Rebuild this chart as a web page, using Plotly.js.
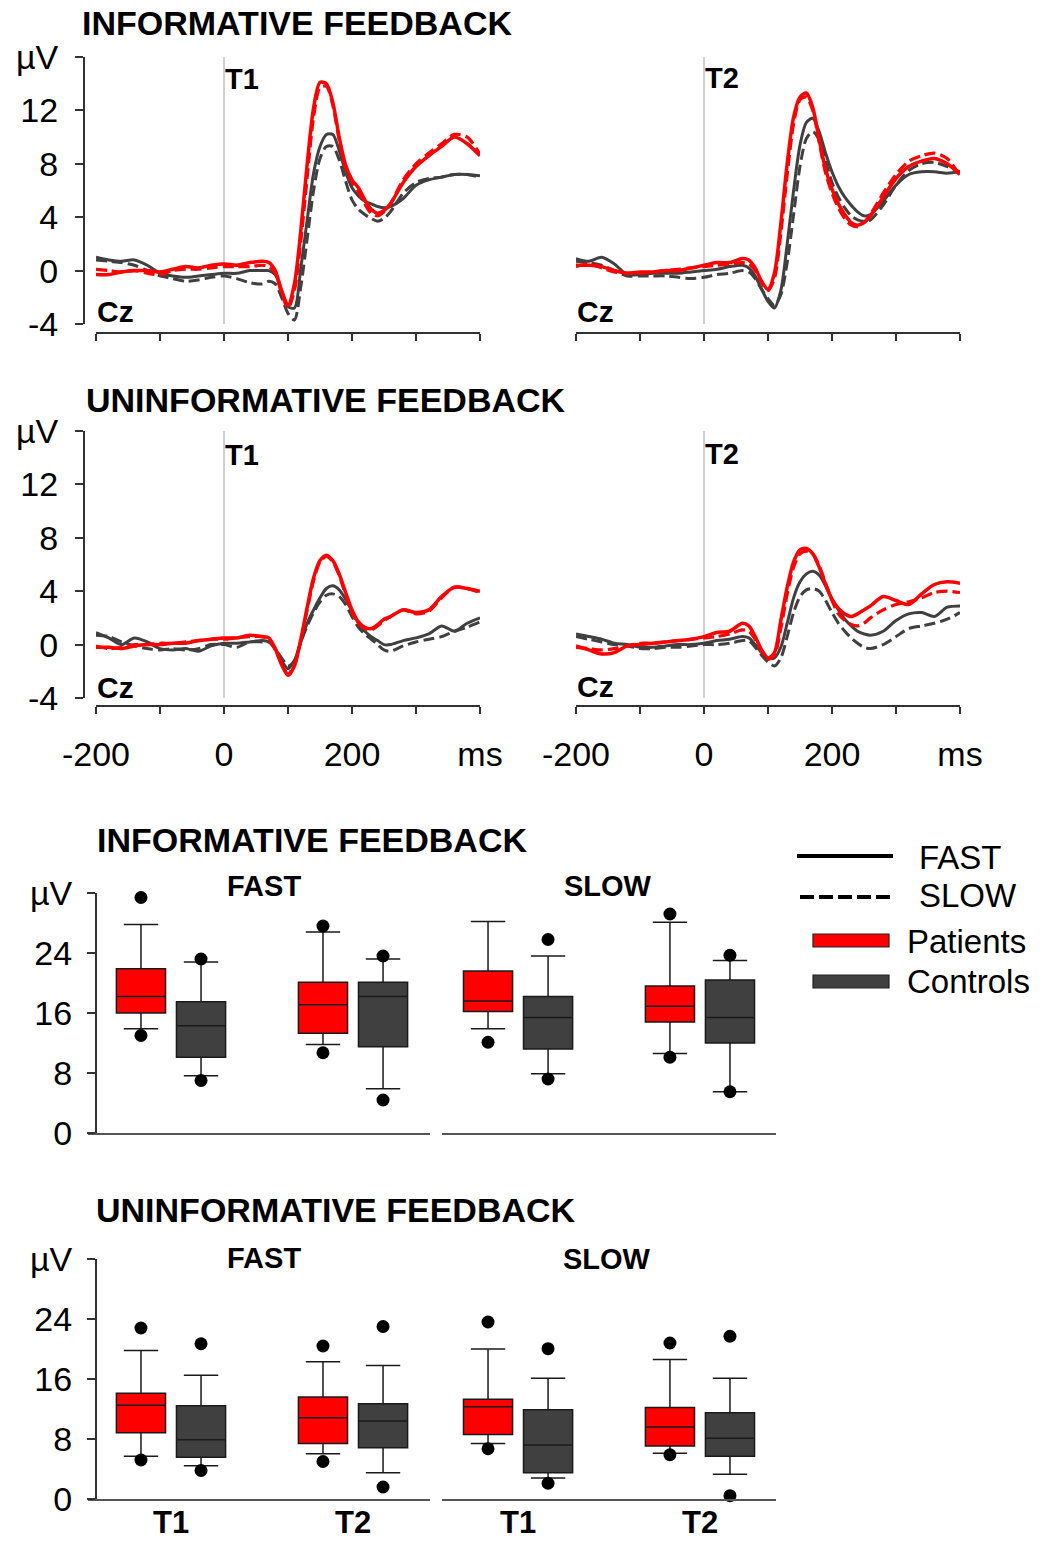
<!DOCTYPE html>
<html>
<head>
<meta charset="utf-8">
<script src="https://cdn.plot.ly/plotly-3.0.1.min.js"></script>
<style>html,body{margin:0;padding:0;background:#fff;}#chart{width:1052px;height:1542px;}</style>
</head>
<body>
<div id="chart"></div>
<script>
// ---------- ERP waveform data (µV), Cz ----------
const timeMs = [-200,-180,-160,-140,-120,-100,-80,-60,-40,-20,0,20,40,60,70,80,90,100,110,120,130,140,150,160,170,180,190,200,210,220,230,240,250,260,280,300,320,340,360,380,400];

// Informative feedback, T1
const infT1PatFast = [-0.3,-0.3,-0.1,0.0,0.0,-0.1,0.1,0.3,0.2,0.4,0.5,0.4,0.6,0.7, 0.6,0.0,-1.5,-2.6,-1.0,3.0,8.0,12.2,14.1,14.0,12.6,10.0,7.9,6.8,6.2,5.3,4.6,4.3,4.5,5.0, 6.6,7.8,8.6,9.3,10.0,9.5,8.6];
const infT1PatSlow = [0.1,0.0,-0.1,0.0,-0.2,-0.3,0.0,0.1,0.1,0.2,0.3,0.3,0.3,0.4, 0.3,-0.2,-1.7,-2.8,-1.5,2.2,7.0,11.5,13.7,13.8,12.4,9.8,7.7,6.6,5.9,5.0,4.3,4.1,4.4,5.0, 6.8,8.0,8.8,9.5,10.2,10.0,8.7];
const infT1CtlFast = [1.0,0.8,0.7,0.8,0.4,-0.2,-0.4,-0.5,-0.4,-0.3,-0.2,-0.2,0.0,0.0, 0.0,-0.3,-1.5,-2.7,-2.8,0.2,3.8,7.3,9.3,10.2,10.2,9.0,7.4,6.2,5.6,5.2,5.0,4.8,4.7,4.8, 5.4,6.4,6.8,7.0,7.2,7.2,7.1];
const infT1CtlSlow = [0.8,0.7,0.6,0.4,0.0,-0.4,-0.6,-0.8,-0.7,-0.5,-0.4,-0.6,-0.9,-1.0, -0.8,-1.0,-2.0,-3.2,-3.7,-1.2,2.4,6.0,8.4,9.3,9.3,8.3,6.7,5.3,4.6,4.2,3.9,3.7,3.9,4.4, 5.8,6.6,6.9,7.0,7.2,7.2,7.0];
// Informative feedback, T2
const infT2PatFast = [0.4,0.4,0.3,0.0,-0.2,-0.1,-0.1,0.0,0.0,0.2,0.4,0.6,0.6,0.9, 0.8,0.2,-0.8,-1.4,-0.2,3.5,8.0,11.5,13.0,13.3,12.2,9.8,7.6,6.1,5.0,4.2,3.6,3.4,3.6,4.1, 5.5,6.9,7.8,8.2,8.4,8.0,7.2];
const infT2PatSlow = [0.3,0.5,0.2,-0.1,-0.2,-0.2,-0.1,0.0,0.1,0.2,0.3,0.4,0.5,0.6, 0.5,0.0,-0.9,-1.5,-0.6,2.8,7.2,11.0,12.8,13.0,12.0,9.6,7.3,5.8,4.7,3.9,3.4,3.3,3.6,4.2, 5.8,7.2,8.2,8.6,8.8,8.4,7.1];
const infT2CtlFast = [0.9,0.7,1.0,0.5,-0.3,-0.3,-0.2,-0.2,-0.2,-0.1,0.0,0.1,0.3,0.4, 0.2,-0.4,-1.4,-2.3,-2.8,-1.5,2.0,6.0,9.4,11.1,11.4,10.4,8.8,7.4,6.3,5.5,4.9,4.4,4.1,4.2, 5.2,6.4,7.2,7.4,7.4,7.3,7.4];
const infT2CtlSlow = [0.7,0.6,0.4,0.0,-0.4,-0.4,-0.4,-0.4,-0.5,-0.6,-0.5,-0.3,-0.2,0.0, -0.1,-0.6,-1.4,-2.1,-2.6,-1.8,0.6,4.2,7.8,9.9,10.4,9.8,8.2,6.6,5.5,4.7,4.1,3.8,3.7,3.8, 4.9,6.4,7.5,8.0,8.1,7.8,7.4];
// Uninformative feedback, T1
const uniT1PatFast = [-0.2,-0.2,-0.3,-0.1,0.0,0.0,0.1,0.1,0.3,0.4,0.5,0.5,0.7,0.6, 0.5,-0.3,-1.5,-2.3,-1.6,0.4,2.8,5.0,6.3,6.7,6.3,5.3,3.9,2.6,1.7,1.3,1.2,1.5,1.9,2.1, 2.6,2.4,2.6,3.6,4.3,4.2,4.0];
const uniT1PatSlow = [-0.1,-0.3,-0.2,0.0,0.0,0.1,0.1,0.2,0.3,0.4,0.4,0.5,0.6,0.6, 0.4,-0.4,-1.4,-2.2,-1.5,0.3,2.6,4.8,6.2,6.6,6.2,5.2,3.7,2.4,1.6,1.2,1.1,1.4,1.8,2.1, 2.6,2.3,2.5,3.5,4.3,4.2,3.9];
const uniT1CtlFast = [0.9,0.5,0.0,0.5,0.2,-0.3,-0.4,-0.3,-0.5,-0.1,0.1,0.1,0.2,0.3, 0.2,-0.3,-1.2,-1.8,-1.2,0.2,1.6,2.6,3.5,4.2,4.4,4.1,3.4,2.5,1.6,1.0,0.6,0.3,0.0,0.0, 0.3,0.5,0.8,1.4,1.0,1.6,2.0];
const uniT1CtlSlow = [0.7,0.6,0.2,-0.1,-0.3,-0.4,-0.3,-0.4,-0.3,0.0,0.0,-0.2,0.2,0.2, 0.2,-0.3,-1.0,-1.6,-1.2,0.2,1.4,2.4,3.2,3.7,3.8,3.6,3.0,2.1,1.3,0.8,0.4,0.0,-0.4,-0.5, -0.1,0.2,0.4,0.6,1.0,1.3,1.7];
// Uninformative feedback, T2
const uniT2PatFast = [-0.1,-0.4,-0.7,-0.6,-0.1,0.0,0.1,0.2,0.3,0.4,0.6,0.9,1.0,1.6, 1.4,0.6,-0.4,-1.0,-0.6,1.8,4.3,6.2,7.1,7.2,6.8,5.8,4.5,3.4,2.7,2.3,2.1,2.3,2.6,2.9, 3.6,3.3,3.0,3.8,4.5,4.7,4.6];
const uniT2PatSlow = [-0.2,-0.3,-0.4,-0.3,-0.1,0.1,0.1,0.2,0.3,0.4,0.5,0.6,0.8,1.1, 1.0,0.4,-0.5,-1.1,-0.8,1.2,3.8,5.8,6.8,7.0,6.8,5.9,4.6,3.3,2.3,1.8,1.5,1.4,1.6,2.0, 2.6,3.0,3.2,3.5,3.9,4.0,3.9];
const uniT2CtlFast = [0.8,0.6,0.4,0.1,0.0,-0.2,-0.2,-0.1,0.0,0.0,0.1,0.3,0.4,0.6, 0.5,0.0,-0.6,-1.0,-1.0,-0.2,1.6,3.5,4.7,5.3,5.5,5.2,4.4,3.4,2.6,1.9,1.4,1.0,0.8,0.7, 1.0,1.8,2.3,2.4,2.1,2.8,2.9];
const uniT2CtlSlow = [0.6,0.4,0.2,0.0,-0.1,-0.3,-0.3,-0.2,-0.2,-0.1,0.0,0.0,0.1,0.3, 0.3,-0.2,-0.8,-1.3,-1.6,-1.0,0.6,2.4,3.6,4.1,4.2,4.0,3.3,2.4,1.6,1.0,0.5,0.1,-0.2,-0.3, 0.0,0.6,1.2,1.4,1.6,1.9,2.4];

const erpTickVals = [-200,-100,0,100,200,300,400];
const erpTickText = ['-200','','0','','200','','ms'];
const erpYTickVals = [-4,0,4,8,12,16];
const erpYTickText = ['-4','0','4','8','12','µV'];

// ---------- Box-plot data (µV): [T1, T2] ----------
const sessions = ['T1','T2'];
const infFastPat = {lf:[13.9,11.8], q1:[16.0,13.3], med:[18.2,17.1], q3:[21.9,20.1], uf:[27.8,26.8], hi:[31.4,27.6], lo:[13.0,10.7]};
const infFastCtl = {lf:[7.65,5.9], q1:[10.1,11.5], med:[14.3,18.2], q3:[17.5,20.1], uf:[22.8,23.2], hi:[23.2,23.6], lo:[7.0,4.4]};
const infSlowPat = {lf:[13.9,10.6], q1:[16.2,14.8], med:[17.6,16.9], q3:[21.6,19.6], uf:[28.2,28.1], hi:[null,29.2], lo:[12.1,10.1]};
const infSlowCtl = {lf:[7.9,5.5], q1:[11.2,12.0], med:[15.4,15.4], q3:[18.2,20.4], uf:[23.6,23.0], hi:[25.8,23.7], lo:[7.2,5.5]};
const uniFastPat = {lf:[5.7,6.05], q1:[8.85,7.4], med:[12.5,10.85], q3:[14.1,13.6], uf:[19.8,18.3], hi:[22.8,20.4], lo:[5.2,5.0]};
const uniFastCtl = {lf:[4.45,3.5], q1:[5.56,6.85], med:[7.9,10.4], q3:[12.45,12.7], uf:[16.5,17.8], hi:[20.7,23.0], lo:[3.8,1.6]};
const uniSlowPat = {lf:[7.4,6.1], q1:[8.6,7.07], med:[12.3,9.6], q3:[13.3,12.2], uf:[20.0,18.6], hi:[23.6,20.8], lo:[6.7,5.9]};
const uniSlowCtl = {lf:[2.8,3.3], q1:[3.5,5.7], med:[7.2,8.1], q3:[11.9,11.5], uf:[16.1,16.1], hi:[20.05,21.7], lo:[2.1,0.45]};
const boxYTickVals = [0,8,16,24,32];
const boxYTickText = ['0','8','16','24','µV'];

// ---------- styling ----------
const W = 1052, H = 1542;
const px = v => v / W;
const py = v => 1 - v / H;
const RED = '#ff0000', GRAY = '#404040';
const FONT = 'Liberation Sans, Arial, sans-serif';
const DASH = '11px,5px';

const traces = [];
function erp(ax, ctlFast, ctlSlow, patFast, patSlow) {
  const common = {x: timeMs, mode: 'lines', xaxis: 'x' + ax, yaxis: 'y' + ax, hoverinfo: 'skip'};
  traces.push(Object.assign({}, common, {y: ctlSlow, line: {color: GRAY, width: 3, dash: DASH, shape: 'spline', smoothing: 0.8}}));
  traces.push(Object.assign({}, common, {y: ctlFast, line: {color: GRAY, width: 3, shape: 'spline', smoothing: 0.8}}));
  traces.push(Object.assign({}, common, {y: patSlow, line: {color: RED, width: 3.2, dash: DASH, shape: 'spline', smoothing: 0.8}}));
  traces.push(Object.assign({}, common, {y: patFast, line: {color: RED, width: 3.5, shape: 'spline', smoothing: 0.8}}));
}
erp(1, infT1CtlFast, infT1CtlSlow, infT1PatFast, infT1PatSlow);
erp(2, infT2CtlFast, infT2CtlSlow, infT2PatFast, infT2PatSlow);
erp(3, uniT1CtlFast, uniT1CtlSlow, uniT1PatFast, uniT1PatSlow);
erp(4, uniT2CtlFast, uniT2CtlSlow, uniT2PatFast, uniT2PatSlow);

const sessIdx = sessions.map((s, i) => i);
const OFF = 0.165, BW = 0.27;
function boxes(ax, pat, ctl) {
  [[pat, -OFF, RED], [ctl, OFF, GRAY]].forEach(([d, off, col]) => {
    const xs = sessIdx.map(i => i + off);
    traces.push({type: 'box', x: xs, q1: d.q1, median: d.med, q3: d.q3, lowerfence: d.lf, upperfence: d.uf,
      width: BW, whiskerwidth: 0.7, fillcolor: col, line: {color: '#1a1a1a', width: 1.5},
      boxpoints: false, xaxis: 'x' + ax, yaxis: 'y' + ax, hoverinfo: 'skip'});
    traces.push({type: 'scatter', mode: 'markers', x: xs.concat(xs), y: d.hi.concat(d.lo),
      marker: {color: '#000', size: 13}, cliponaxis: false, xaxis: 'x' + ax, yaxis: 'y' + ax, hoverinfo: 'skip'});
  });
}
boxes(5, infFastPat, infFastCtl);
boxes(6, infSlowPat, infSlowCtl);
boxes(7, uniFastPat, uniFastCtl);
boxes(8, uniSlowPat, uniSlowCtl);

const axisLine = {showline: true, linecolor: '#333', linewidth: 2, showgrid: false, zeroline: false, fixedrange: true};
const tickFont = {family: FONT, size: 34, color: '#000'};

function erpX(dom, posY, labels) {
  return Object.assign({}, axisLine, {domain: [px(dom[0]), px(dom[1])], range: [-200, 400], anchor: 'free', position: py(posY),
    ticks: 'outside', ticklen: 7, tickwidth: 2, tickcolor: '#333', tickvals: erpTickVals, ticktext: erpTickText,
    showticklabels: labels, tickfont: tickFont, ticklabelstandoff: 11});
}
function erpY(dom, visible) {
  return Object.assign({}, axisLine, {domain: [py(dom[1]), py(dom[0])], range: [-4, 16], anchor: 'free', position: px(84),
    visible: visible, ticks: 'outside', ticklen: 8, tickwidth: 2, tickcolor: '#333', tickvals: erpYTickVals, ticktext: erpYTickText,
    tickfont: tickFont, ticklabelstandoff: 10});
}
function boxX(dom, range, anchor) {
  return Object.assign({}, axisLine, {linecolor: '#555', domain: [px(dom[0]), px(dom[1])], range: range, anchor: anchor,
    ticks: '', tickvals: sessIdx, showticklabels: false});
}
function boxY(dom, visible) {
  return Object.assign({}, axisLine, {domain: [py(dom[1]), py(dom[0])], range: [0, 32], anchor: 'free', position: px(96),
    visible: visible, ticks: 'outside', ticklen: 8, tickwidth: 2, tickcolor: '#333', tickvals: boxYTickVals, ticktext: boxYTickText,
    tickfont: tickFont, ticklabelstandoff: 8});
}

const erpTop = [57, 324], erpBot = [431, 698];
const boxA = [893, 1133], boxB = [1259, 1499];
const fastRange = [-0.456, 1.423], slowRange = [-0.418, 1.418];

function ann(text, x, y, size, anchor) {
  return {text: text, xref: 'paper', yref: 'paper', x: px(x), y: py(y), xanchor: anchor || 'left', yanchor: 'middle',
    showarrow: false, font: {family: FONT, size: size, color: '#000'}};
}

const annotations = [
  ann('<b>INFORMATIVE FEEDBACK</b>', 80, 23, 34),
  ann('<b>UNINFORMATIVE FEEDBACK</b>', 84, 400, 34),
  ann('<b>T1</b>', 223, 79, 29), ann('<b>T2</b>', 703, 78, 29),
  ann('<b>T1</b>', 223, 455, 29), ann('<b>T2</b>', 703, 454, 29),
  ann('<b>Cz</b>', 95, 312, 30), ann('<b>Cz</b>', 575, 312, 30),
  ann('<b>Cz</b>', 95, 687, 30), ann('<b>Cz</b>', 575, 686, 30),
  ann('<b>INFORMATIVE FEEDBACK</b>', 95, 840, 34),
  ann('<b>UNINFORMATIVE FEEDBACK</b>', 94, 1210, 34),
  ann('<b>FAST</b>', 264, 886, 29, 'center'), ann('<b>SLOW</b>', 608, 886, 29, 'center'),
  ann('<b>FAST</b>', 264, 1258, 29, 'center'), ann('<b>SLOW</b>', 607, 1259, 29, 'center'),
  ann('FAST', 917, 857, 33), ann('SLOW', 917, 895, 33),
  ann('Patients', 905, 941, 33), ann('Controls', 905, 982, 33)
];
// session labels under the bottom box panel, placed on the session positions of each x axis
['x7', 'x8'].forEach(xr => sessions.forEach((s, i) => annotations.push({
  text: '<b>' + s + '</b>', xref: xr, yref: 'paper', x: sessIdx[i], y: py(1541), xanchor: 'center', yanchor: 'bottom',
  showarrow: false, borderpad: 0, font: {family: FONT, size: 31, color: '#000'}})));

const shapes = [1, 2, 3, 4].map(a => ({type: 'line', xref: 'x' + a, yref: 'y' + a + ' domain', x0: 0, x1: 0, y0: 0, y1: 1,
  line: {color: '#c0c0c0', width: 1.5}, layer: 'below'}));
shapes.push({type: 'line', xref: 'paper', yref: 'paper', x0: px(797), x1: px(893), y0: py(856), y1: py(856), line: {color: '#000', width: 4}});
shapes.push({type: 'line', xref: 'paper', yref: 'paper', x0: px(800), x1: px(893), y0: py(897), y1: py(897), line: {color: '#000', width: 4, dash: '14px,5px'}});
shapes.push({type: 'rect', xref: 'paper', yref: 'paper', x0: px(813), x1: px(889), y0: py(947), y1: py(934), fillcolor: RED, line: {color: '#222', width: 1.2}});
shapes.push({type: 'rect', xref: 'paper', yref: 'paper', x0: px(813), x1: px(889), y0: py(988), y1: py(975), fillcolor: GRAY, line: {color: '#222', width: 1.2}});

const layout = {
  width: W, height: H, margin: {l: 0, r: 0, t: 0, b: 0}, paper_bgcolor: '#fff', plot_bgcolor: 'rgba(0,0,0,0)',
  showlegend: false, font: {family: FONT, color: '#000'}, boxmode: 'overlay',
  xaxis: erpX([96, 480], 333, false), yaxis: erpY(erpTop, true),
  xaxis2: erpX([576, 960], 333, false), yaxis2: erpY(erpTop, false),
  xaxis3: erpX([96, 480], 706, true), yaxis3: erpY(erpBot, true),
  xaxis4: erpX([576, 960], 706, true), yaxis4: erpY(erpBot, false),
  xaxis5: boxX([88, 430], fastRange, 'y5'), yaxis5: boxY(boxA, true),
  xaxis6: boxX([442, 776], slowRange, 'y6'), yaxis6: boxY(boxA, false),
  xaxis7: boxX([88, 430], fastRange, 'y7'), yaxis7: boxY(boxB, true),
  xaxis8: boxX([442, 776], slowRange, 'y8'), yaxis8: boxY(boxB, false),
  annotations: annotations, shapes: shapes
};

Plotly.newPlot('chart', traces, layout, {displayModeBar: false, staticPlot: true});
</script>
</body>
</html>
